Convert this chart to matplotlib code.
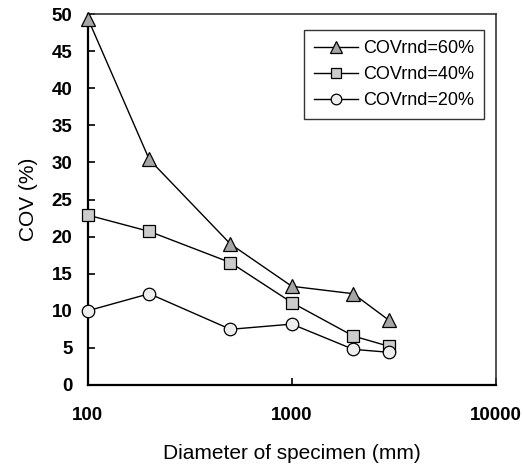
import matplotlib

matplotlib.use("Agg")
import matplotlib.pyplot as plt
from matplotlib.ticker import FixedLocator, NullLocator

plt.rcParams["font.family"] = ["Liberation Sans", "DejaVu Sans"]

diameters = [100, 200, 500, 1000, 2000, 3000]
cov_60 = [49.4, 30.4, 19.0, 13.3, 12.3, 8.7]
cov_40 = [22.9, 20.7, 16.5, 11.1, 6.6, 5.2]
cov_20 = [10.0, 12.3, 7.5, 8.2, 4.8, 4.4]
series_labels = ["COVrnd=60%", "COVrnd=40%", "COVrnd=20%"]
y_ticks = [0, 5, 10, 15, 20, 25, 30, 35, 40, 45, 50]
x_ticks = [100, 1000, 10000]

fig = plt.figure(figsize=(5.23, 4.70), dpi=100)
ax = fig.add_axes([0.168, 0.181, 0.780, 0.789])

ax.plot(diameters, cov_60, color="black", lw=1.0, marker="^", ms=10,
        mfc="#a6a6a6", mec="black", mew=0.9, label=series_labels[0], clip_on=False, zorder=3)
ax.plot(diameters, cov_40, color="black", lw=1.0, marker="s", ms=8,
        mfc="#cccccc", mec="black", mew=0.9, label=series_labels[1], clip_on=False, zorder=3)
ax.plot(diameters, cov_20, color="black", lw=1.0, marker="o", ms=9,
        mfc="#eeeeee", mec="black", mew=0.9, label=series_labels[2], clip_on=False, zorder=3)

ax.set_xscale("log")
ax.set_xlim(100, 10000)
ax.set_ylim(0, 50)
ax.xaxis.set_major_locator(FixedLocator(x_ticks))
ax.xaxis.set_minor_locator(NullLocator())
ax.set_xticklabels([str(v) for v in x_ticks])
ax.set_yticks(y_ticks)

ax.tick_params(axis="both", direction="in", length=5, width=1.2, labelsize=13.5)
ax.tick_params(axis="y", pad=11)
ax.tick_params(axis="x", pad=16)
for lab in ax.get_xticklabels() + ax.get_yticklabels():
    lab.set_fontweight("bold")

ax.spines["left"].set_linewidth(1.6)
ax.spines["bottom"].set_linewidth(1.6)
ax.spines["top"].set_linewidth(1.2)
ax.spines["right"].set_linewidth(1.2)
for side in ["top", "right"]:
    ax.spines[side].set_color("#333333")

ax.set_xlabel("Diameter of specimen (mm)", fontsize=15, labelpad=14)
ax.set_ylabel("COV (%)", fontsize=15, labelpad=10)

leg = ax.legend(loc="upper right", bbox_to_anchor=(0.971, 0.957), fontsize=13,
                frameon=True, fancybox=False, edgecolor="black", handlelength=2.4,
                handletextpad=0.3, borderpad=0.55, labelspacing=0.5, borderaxespad=0,
                markerscale=0.85)
leg.get_frame().set_linewidth(1.0)

fig.savefig("out.png", dpi=100)
